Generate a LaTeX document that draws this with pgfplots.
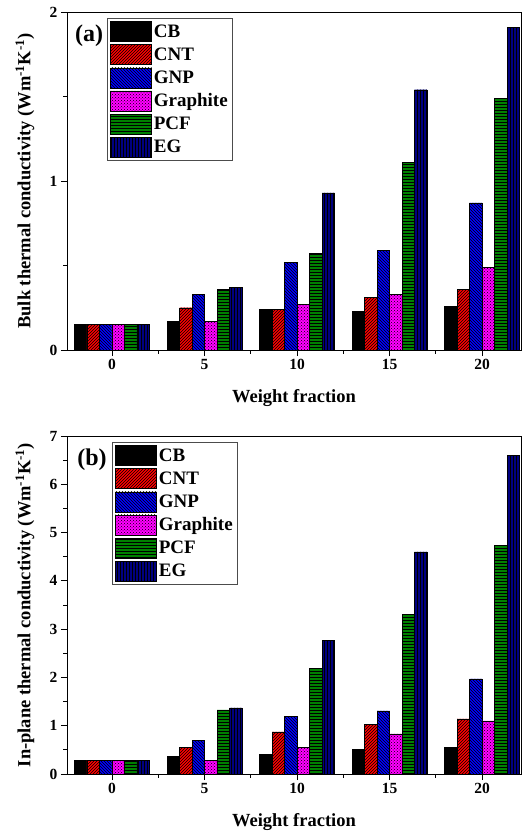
\documentclass[border=0pt]{standalone}
\usepackage{fontspec}
\setmainfont{Liberation Serif}
\usepackage{pgfplots}
\pgfplotsset{compat=1.18}
\usepackage{pgfplotstable}
\usetikzlibrary{patterns}

\definecolor{cntred}{RGB}{255,0,0}
\definecolor{gnpblue}{RGB}{0,0,255}
\definecolor{grmag}{RGB}{255,0,255}
\definecolor{pcfgreen}{RGB}{0,128,0}
\definecolor{egnavy}{RGB}{0,0,128}

% Bulk thermal conductivity (W/mK) against filler weight fraction
\pgfplotstableread{
x  CB   CNT  GNP  Graphite PCF  EG
0  0.15 0.15 0.15 0.15     0.15 0.15
5  0.17 0.25 0.33 0.17     0.36 0.37
10 0.24 0.24 0.52 0.27     0.57 0.93
15 0.23 0.31 0.59 0.33     1.11 1.54
20 0.26 0.36 0.87 0.49     1.49 1.91
}\bulkdata

% In-plane thermal conductivity (W/mK)
\pgfplotstableread{
x  CB   CNT  GNP  Graphite PCF  EG
0  0.29 0.29 0.29 0.29     0.29 0.29
5  0.37 0.55 0.69 0.28     1.33 1.37
10 0.41 0.87 1.19 0.55     2.19 2.77
15 0.51 1.03 1.31 0.83     3.30 4.60
20 0.55 1.14 1.97 1.10     4.74 6.60
}\planedata

\pgfplotsset{
  panel/.style={
    width=454pt, height=338pt, scale only axis,
    xmin=-2.43, xmax=22.1, ymin=0,
    ybar=0pt, bar width=12.5pt,
    xtick={0,5,10,15,20}, minor xtick={2.5,7.5,12.5,17.5},
    minor y tick num=1,
    tick pos=left, tick align=outside,
    major tick length=6pt, minor tick length=3.5pt,
    every tick/.style={black, line width=0.8pt},
    axis line style={line width=0.8pt},
    /pgf/number format/assume math mode=true,
    ticklabel style={font=\bfseries\fontsize{15.5}{15.5}\selectfont},
    label style={font=\bfseries\fontsize{18.5}{20}\selectfont},
    xlabel={Weight fraction},
    x label style={at={(axis description cs:0.5,-0.142)}, anchor=center},
    y label style={at={(axis description cs:-0.0925,0.5)}, anchor=center},
    legend cell align=left,
    legend style={anchor=north west, draw=black!70, line width=0.6pt,
      font=\bfseries\fontsize{19}{19}\selectfont,
      row sep=2.5pt, inner sep=3pt},
    legend image code/.code={\draw[#1, draw=black, line width=0.6pt]
      (0pt,-10pt) rectangle (41pt,10pt);},
  },
  cb/.style={fill=black, draw=black},
  cnt/.style={fill=cntred, draw=black, postaction={pattern=north east lines}},
  gnp/.style={fill=gnpblue, draw=black, postaction={pattern=north west lines}},
  grp/.style={fill=grmag, draw=black, postaction={pattern=crosshatch dots}},
  pcf/.style={fill=pcfgreen, draw=black, postaction={pattern=horizontal lines}},
  eg/.style={fill=egnavy, draw=black, postaction={pattern=vertical lines}},
}

\begin{document}
\begin{tikzpicture}
\path[use as bounding box] (-67pt,12pt) rectangle (455pt,-822pt);

% (a) bulk
\begin{axis}[panel, at={(0pt,0pt)}, anchor=north west,
  ymax=2, ytick={0,1,2},
  ylabel={Bulk thermal conductivity (Wm\textsuperscript{-1}K\textsuperscript{-1})},
  legend style={at={(axis description cs:0.088,0.982)}}]
  \addplot[cb]  table[x=x, y=CB]       {\bulkdata};
  \addplot[cnt] table[x=x, y=CNT]      {\bulkdata};
  \addplot[gnp] table[x=x, y=GNP]      {\bulkdata};
  \addplot[grp] table[x=x, y=Graphite] {\bulkdata};
  \addplot[pcf] table[x=x, y=PCF]      {\bulkdata};
  \addplot[eg]  table[x=x, y=EG]       {\bulkdata};
  \legend{CB,CNT,GNP,Graphite,PCF,EG}
\end{axis}
\node[font=\bfseries\fontsize{24}{24}\selectfont] at (22pt,-24pt) {(a)};

% (b) in-plane
\begin{axis}[panel, at={(0pt,-424pt)}, anchor=north west,
  ymax=7, ytick={0,1,...,7},
  ylabel={In-plane thermal conductivity (Wm\textsuperscript{-1}K\textsuperscript{-1})},
  legend style={at={(axis description cs:0.099,0.982)}}]
  \addplot[cb]  table[x=x, y=CB]       {\planedata};
  \addplot[cnt] table[x=x, y=CNT]      {\planedata};
  \addplot[gnp] table[x=x, y=GNP]      {\planedata};
  \addplot[grp] table[x=x, y=Graphite] {\planedata};
  \addplot[pcf] table[x=x, y=PCF]      {\planedata};
  \addplot[eg]  table[x=x, y=EG]       {\planedata};
  \legend{CB,CNT,GNP,Graphite,PCF,EG}
\end{axis}
\node[font=\bfseries\fontsize{24}{24}\selectfont] at (25pt,-448pt) {(b)};
\end{tikzpicture}
\end{document}
